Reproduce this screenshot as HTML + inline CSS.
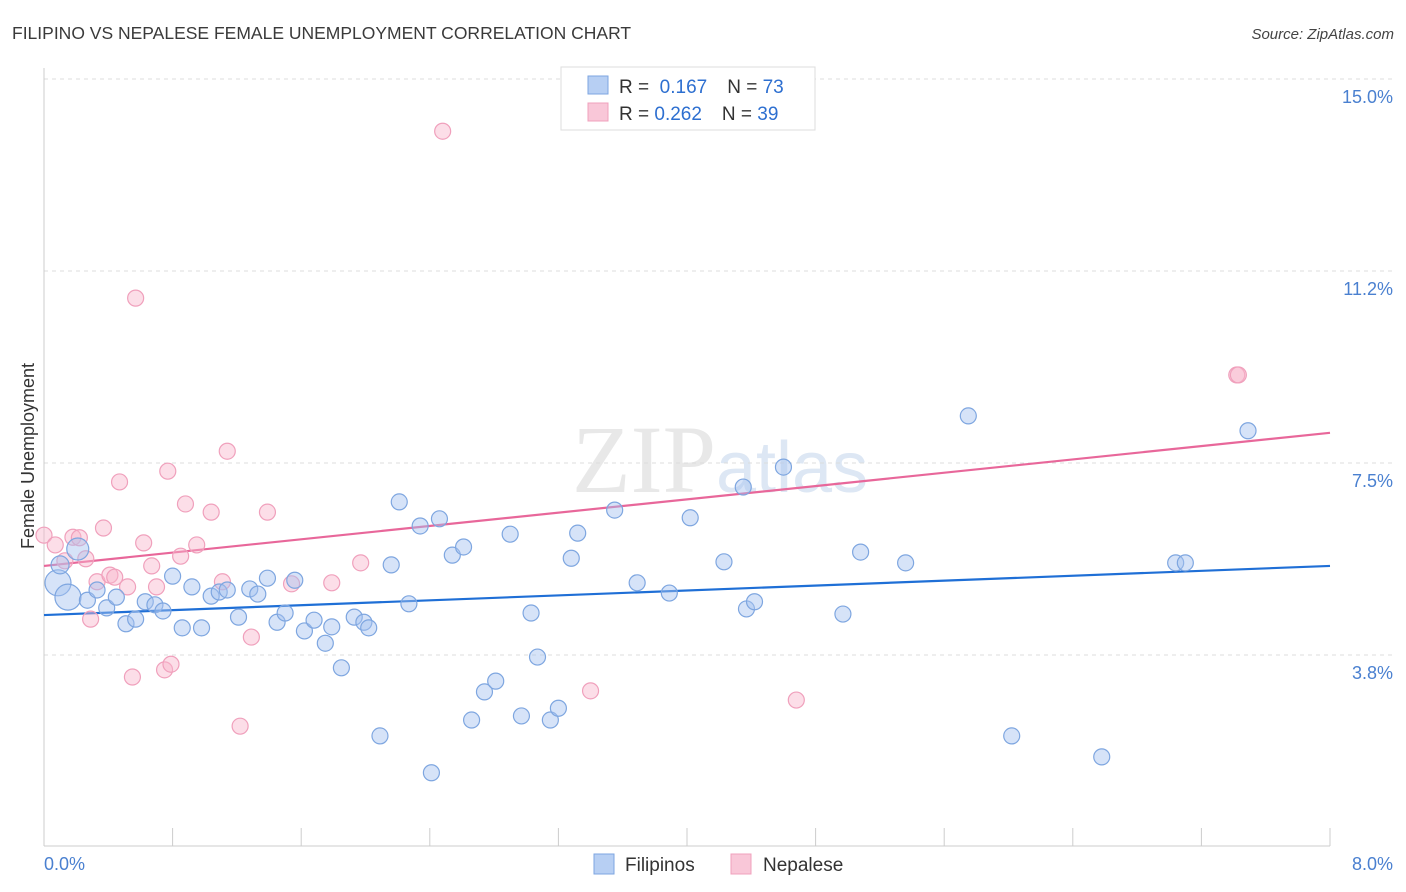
<!DOCTYPE html>
<html><head><meta charset="utf-8"><style>
body{margin:0;background:#fff;font-family:"Liberation Sans",sans-serif;}
svg{display:block}
</style></head><body>
<svg id="chart" width="1406" height="892" xmlns="http://www.w3.org/2000/svg" font-family="Liberation Sans, sans-serif">
<text x="12" y="39" font-size="17.5" fill="#3a3a3a">FILIPINO VS NEPALESE FEMALE UNEMPLOYMENT CORRELATION CHART</text>
<text x="1394" y="39" font-size="15" fill="#444" font-style="italic" text-anchor="end">Source: ZipAtlas.com</text>
<text x="720" y="492" font-size="96" fill="#e8e8e8" text-anchor="middle" font-family="Liberation Serif, serif">ZIP<tspan fill="#dde7f4" font-family="Liberation Sans, sans-serif" font-size="72">atlas</tspan></text>
<text transform="translate(34,456) rotate(-90)" font-size="18" fill="#333" text-anchor="middle">Female Unemployment</text>
<g id="grid"></g>
<g id="axes"></g>
<g id="trend"></g>
<g id="pts"></g>
<g>
<rect x="561" y="67" width="254" height="63" fill="#fff" stroke="#ddd"/>
<rect x="588" y="76" width="20" height="18" fill="#b7cff3" stroke="#7ea6e0"/>
<text x="619" y="93" font-size="19" fill="#333">R = <tspan fill="#2d6fd0">&#160;0.167</tspan><tspan dx="20">N = </tspan><tspan fill="#2d6fd0">73</tspan></text>
<rect x="588" y="103" width="20" height="18" fill="#f9c7d8" stroke="#f0a0bc"/>
<text x="619" y="120" font-size="19" fill="#333">R = <tspan fill="#2d6fd0">0.262</tspan><tspan dx="20">N = </tspan><tspan fill="#2d6fd0">39</tspan></text>
</g>
<g>
<rect x="594" y="854" width="20" height="20" fill="#b7cff3" stroke="#7ea6e0"/>
<text x="625" y="871" font-size="19" fill="#333">Filipinos</text>
<rect x="731" y="854" width="20" height="20" fill="#f9c7d8" stroke="#f0a0bc"/>
<text x="763" y="871" font-size="19" fill="#333">Nepalese</text>
</g>
</svg>
<script>
const blueX=[0.087,0.149,0.10,0.21,0.27,0.33,0.39,0.45,0.51,0.57,0.63,0.69,0.74,0.80,0.86,0.92,0.98,1.04,1.09,1.14,1.21,1.28,1.33,1.39,1.45,1.50,1.56,1.62,1.68,1.75,1.79,1.85,1.93,1.99,2.02,2.09,2.16,2.21,2.27,2.34,2.41,2.46,2.54,2.61,2.66,2.74,2.81,2.90,2.97,3.03,3.07,3.15,3.20,3.28,3.32,3.55,3.69,3.89,4.02,4.23,4.35,4.37,4.42,4.60,4.97,5.08,5.36,5.75,6.02,6.58,7.04,7.10,7.49];
const blueY=[5.16,4.88,5.51,5.82,4.82,5.02,4.67,4.88,4.36,4.45,4.79,4.73,4.61,5.29,4.28,5.08,4.28,4.90,4.98,5.02,4.49,5.04,4.94,5.25,4.39,4.57,5.21,4.22,4.43,3.98,4.30,3.50,4.49,4.39,4.28,2.17,5.51,6.74,4.75,6.27,1.45,6.41,5.70,5.86,2.48,3.03,3.24,6.11,2.56,4.57,3.71,2.48,2.71,5.64,6.13,6.58,5.16,4.96,6.43,5.57,7.03,4.65,4.79,7.42,4.55,5.76,5.55,8.42,2.17,1.76,5.55,5.55,8.13];
const blueSize=[13,13,9,11];
const pinkX=[0.0,0.07,0.13,0.18,0.22,0.26,0.29,0.33,0.37,0.41,0.44,0.47,0.52,0.55,0.57,0.62,0.67,0.70,0.75,0.77,0.79,0.85,0.88,0.95,1.04,1.11,1.14,1.22,1.29,1.39,1.54,1.79,1.97,2.48,3.40,4.68,7.42,7.43];
const pinkY=[6.09,5.90,5.59,6.05,6.04,5.63,4.45,5.18,6.23,5.31,5.27,7.13,5.08,3.32,10.72,5.94,5.49,5.08,3.46,7.34,3.57,5.68,6.70,5.90,6.54,5.18,7.73,2.36,4.10,6.54,5.14,5.16,5.55,13.98,3.05,2.87,9.22,9.22];
const blueTrend=[4.53,5.49];
const pinkTrend=[5.49,8.09];
const yTicks=[3.75,7.5,11.25,15.0];
const yTickLabels=["3.8%","7.5%","11.2%","15.0%"];
const xTicks=[0,0.8,1.6,2.4,3.2,4.0,4.8,5.6,6.4,7.2,8.0];
const NS="http://www.w3.org/2000/svg";
const X=v=>44+v*160.75, Y=v=>847-v*51.2;
function mk(tag,attrs,parent){const e=document.createElementNS(NS,tag);for(const k in attrs)e.setAttribute(k,attrs[k]);parent.appendChild(e);return e;}
const grid=document.getElementById('grid'),axes=document.getElementById('axes');
yTicks.forEach((t,i)=>{
  const l=mk('line',{x1:44,x2:1393,y1:Y(t),y2:Y(t),stroke:'#dcdcdc','stroke-dasharray':'4,4'},grid);
  
  
  const tx=mk('text',{x:1393,y:Y(t)+24,'font-size':18,fill:'#4a80d0','text-anchor':'end'},axes);
  tx.textContent=yTickLabels[i];
  
  
});
const ax=mk('line',{x1:44,x2:1330,y1:846,y2:846,stroke:'#ccc'},axes);


const ay=mk('line',{x1:44,x2:44,y1:68,y2:846,stroke:'#ccc'},axes);


xTicks.forEach(t=>{
  const l=mk('line',{x1:X(t),x2:X(t),y1:828,y2:846,stroke:'#ccc'},axes);
  
  
});
const x0=mk('text',{x:44,y:870,'font-size':18,fill:'#4a80d0'},axes);x0.textContent='0.0%';


const x1=mk('text',{x:1393,y:870,'font-size':18,fill:'#4a80d0','text-anchor':'end'},axes);x1.textContent='8.0%';


const pts=document.getElementById('pts');
pinkX.forEach((x,i)=>{
  const c=mk('circle',{cx:X(x),cy:Y(pinkY[i]),r:8,fill:'rgba(248,182,204,0.45)',stroke:'#f0a0bc','stroke-width':1.2},pts);
  
  
});
blueX.forEach((x,i)=>{
  const c=mk('circle',{cx:X(x),cy:Y(blueY[i]),r:blueSize[i]||8,fill:'rgba(164,194,240,0.45)',stroke:'#7ea6e0','stroke-width':1.2},pts);
  
  
});
const tr=document.getElementById('trend');
const bl=mk('line',{x1:X(0),y1:Y(blueTrend[0]),x2:X(8),y2:Y(blueTrend[1]),stroke:'#1f6fd6','stroke-width':2.2},tr);


const pl=mk('line',{x1:X(0),y1:Y(pinkTrend[0]),x2:X(8),y2:Y(pinkTrend[1]),stroke:'#e8679a','stroke-width':2.2},tr);


</script>
</body></html>
